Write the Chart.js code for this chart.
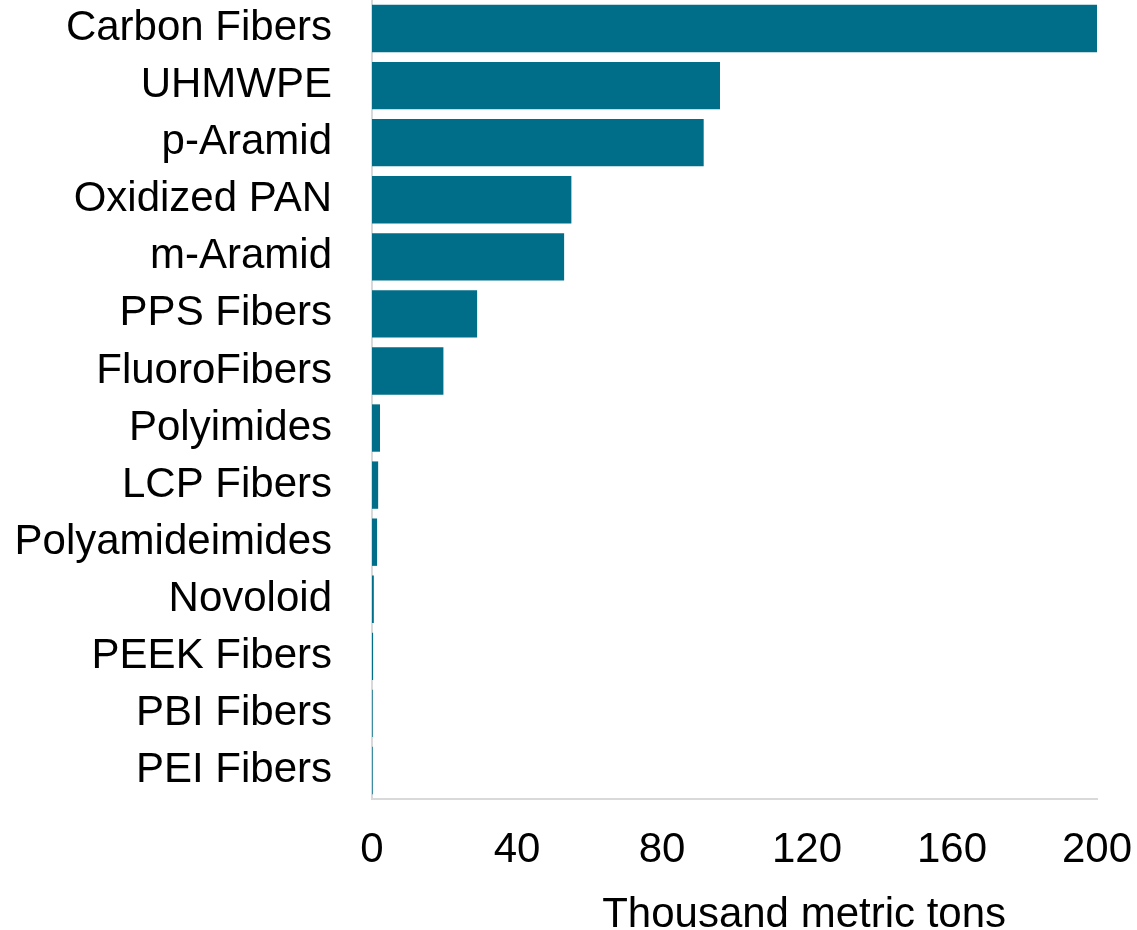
<!DOCTYPE html>
<html>
<head>
<meta charset="utf-8">
<script src="https://cdn.jsdelivr.net/npm/chart.js@4/dist/chart.umd.min.js"></script>
<style>
  html, body { margin: 0; padding: 0; background: #ffffff; }
  canvas { display: block; }
</style>
</head>
<body>
<canvas id="fibers" width="1137" height="930"></canvas>
<script>
// Fiber types, largest first
const categories = [
  "Carbon Fibers", "UHMWPE", "p-Aramid", "Oxidized PAN", "m-Aramid",
  "PPS Fibers", "FluoroFibers", "Polyimides", "LCP Fibers", "Polyamideimides",
  "Novoloid", "PEEK Fibers", "PBI Fibers", "PEI Fibers"
];
// Volume per fiber type, thousand metric tons
const volumes = [200, 96, 91.5, 55, 53, 29, 19.7, 2.2, 1.7, 1.4, 0.5, 0.3, 0.2, 0.2];
// Value axis ticks
const xTicks = [0, 40, 80, 120, 160, 200];
const axisTitle = "Thousand metric tons";

const FONT = "'Liberation Sans', Arial, sans-serif";
const BAR = "#006E88";
const AXIS = "#d9d9d9";

// Draws the value axis title under the tick labels
const axisTitlePlugin = {
  id: "axisTitle",
  afterDraw(chart) {
    const ctx = chart.ctx;
    const xs = chart.scales.x;
    ctx.save();
    ctx.font = "42px " + FONT;
    ctx.fillStyle = "#000000";
    ctx.textAlign = "center";
    ctx.textBaseline = "alphabetic";
    ctx.fillText(axisTitle, xs.left + (xs.right - xs.left) * 0.596, chart.height - 3);
    ctx.restore();
  }
};

new Chart(document.getElementById("fibers"), {
  type: "bar",
  data: {
    labels: categories,
    datasets: [{
      data: volumes,
      backgroundColor: BAR,
      borderWidth: 0,
      categoryPercentage: 1.0,
      barPercentage: 0.83
    }]
  },
  options: {
    indexAxis: "y",
    responsive: false,
    devicePixelRatio: 1,
    animation: false,
    layout: { padding: 0 },
    plugins: {
      legend: { display: false },
      tooltip: { enabled: false },
      title: { display: false }
    },
    scales: {
      x: {
        min: 0,
        max: 200,
        afterBuildTicks(scale) {
          scale.ticks = xTicks.map(v => ({ value: v }));
        },
        afterFit(scale) {
          scale.height = 131;
          scale.paddingLeft = 0;
          scale.paddingRight = 40;
        },
        grid: { display: false, drawTicks: false },
        border: { display: true, color: AXIS, width: 2 },
        ticks: {
          color: "#000000",
          padding: 26,
          maxRotation: 0,
          font: { family: FONT, size: 42 }
        }
      },
      y: {
        afterFit(scale) {
          scale.width = 372;
          scale.paddingTop = 0;
          scale.paddingBottom = 0;
        },
        grid: { display: false, drawTicks: false },
        border: { display: true, color: AXIS, width: 2 },
        ticks: {
          color: "#000000",
          padding: 40,
          autoSkip: false,
          font: { family: FONT, size: 42 }
        }
      }
    }
  },
  plugins: [axisTitlePlugin]
});
</script>
</body>
</html>
